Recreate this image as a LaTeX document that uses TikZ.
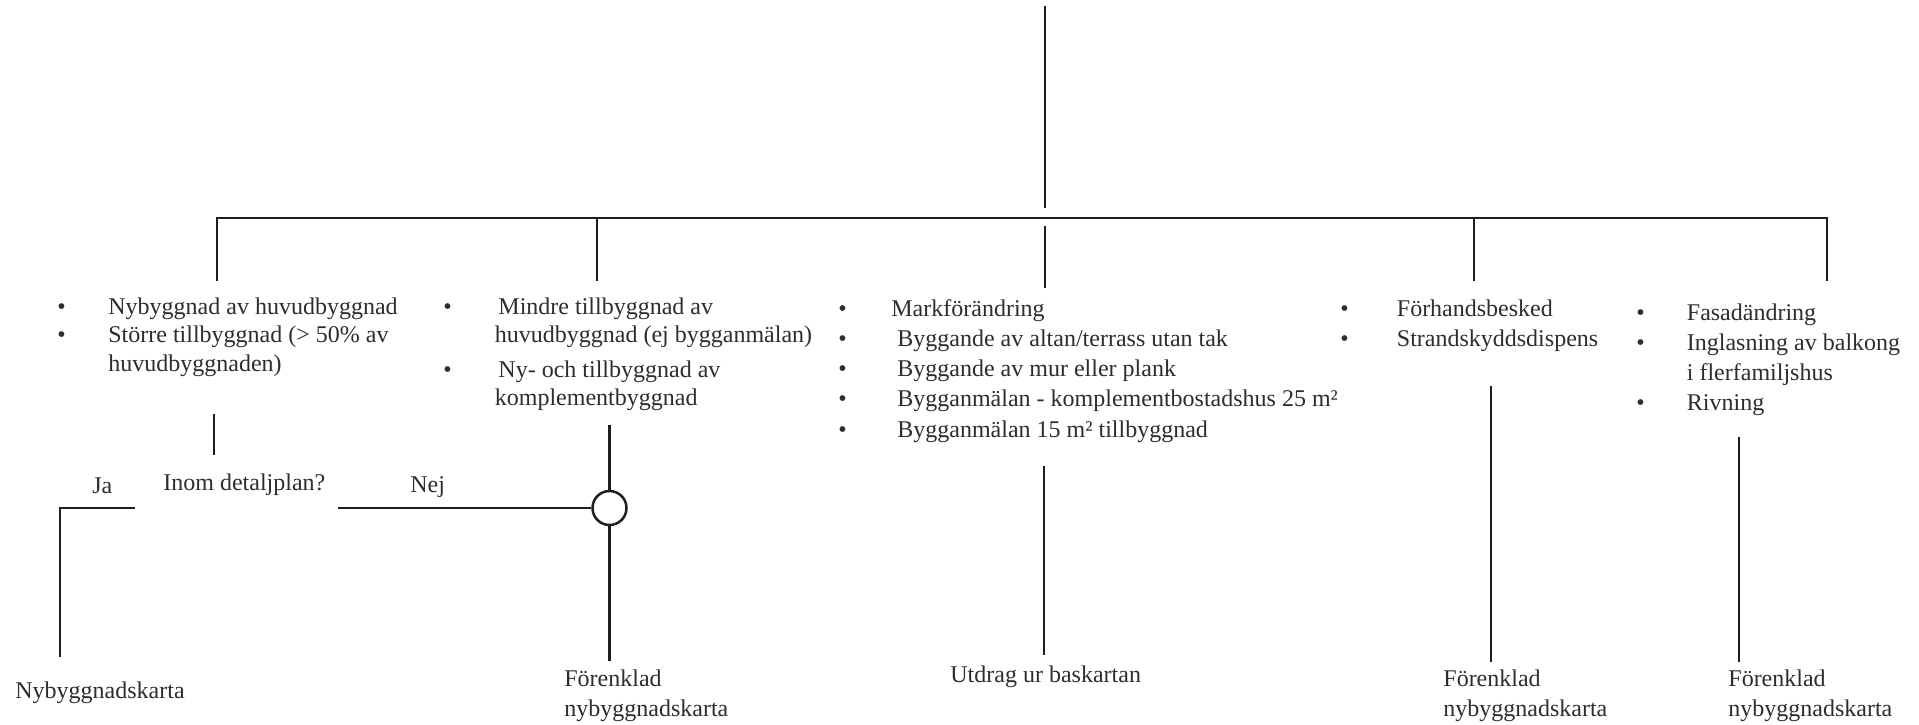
\documentclass[tikz,border=0pt]{standalone}
\usepackage{fontspec}
\setmainfont{Liberation Serif}
\definecolor{ink}{RGB}{30,30,30}
\definecolor{txt}{RGB}{45,45,45}
\newcommand{\bul}[1]{\makebox[#1][l]{\textbullet}}
\begin{document}
\begin{tikzpicture}[x=0.5pt,y=-0.5pt,
  conn/.style={draw=ink, line width=1.25pt},
  lbl/.style={anchor=base west, inner sep=0pt, text=txt, font=\fontsize{12}{14.4}\selectfont},
  lblw/.style={lbl, font=\fontsize{12}{15.15}\selectfont},
  junction/.style={circle, draw=ink, line width=1.25pt, fill=white, minimum size=17pt, inner sep=0pt}]
\useasboundingbox (0,0) rectangle (1919,724);

% text blocks
\node[lbl] (b1) at (57,314) {\begin{tabular}[t]{@{}l@{}l@{}}
\bul{25.5pt} & Nybyggnad av huvudbyggnad\\
\bul{25.5pt} & Större tillbyggnad (> 50\% av\\
 & huvudbyggnaden)
\end{tabular}};
\node[lbl] (b2) at (443,314) {\begin{tabular}[t]{@{}l@{}l@{}}
\bul{25.75pt} & \hspace{1.8pt}Mindre tillbyggnad av\\
 & huvudbyggnad (ej bygganmälan)\\[2.75pt]
\bul{25.75pt} & \hspace{1.8pt}Ny- och tillbyggnad av\\
 & komplementbyggnad
\end{tabular}};
\node[lblw] (b3) at (838,316) {\begin{tabular}[t]{@{}l@{}l@{}}
\bul{26.5pt} & Markförändring\\
\bul{26.5pt} & \hspace{3pt}Byggande av altan/terrass utan tak\\
\bul{26.5pt} & \hspace{3pt}Byggande av mur eller plank\\
\bul{26.5pt} & \hspace{3pt}Bygganmälan - komplementbostadshus 25 m²\\
\bul{26.5pt} & \hspace{3pt}Bygganmälan 15 m² tillbyggnad
\end{tabular}};
\node[lblw] (b4) at (1340,316) {\begin{tabular}[t]{@{}l@{}l@{}}
\bul{28.25pt} & Förhandsbesked\\
\bul{28.25pt} & Strandskyddsdispens
\end{tabular}};
\node[lblw] (b5) at (1636,320) {\begin{tabular}[t]{@{}l@{}l@{}}
\bul{25.25pt} & Fasadändring\\
\bul{25.25pt} & Inglasning av balkong\\
 & i flerfamiljshus\\
\bul{25.25pt} & Rivning
\end{tabular}};

% decision
\node[lbl] (ja) at (92,493) {Ja};
\node[lbl] (q) at (163,490) {Inom detaljplan?};
\node[lbl] (nej) at (410,492) {Nej};
\node[junction] (j) at (609.5,508) {};

% results
\node[lbl] (r1) at (15,698) {Nybyggnadskarta};
\node[lblw] (r2) at (564,686) {\begin{tabular}[t]{@{}l@{}}Förenklad\\ nybyggnadskarta\end{tabular}};
\node[lbl] (r3) at (950,682) {Utdrag ur baskartan};
\node[lblw] (r4) at (1443,686) {\begin{tabular}[t]{@{}l@{}}Förenklad\\ nybyggnadskarta\end{tabular}};
\node[lblw] (r5) at (1728,686) {\begin{tabular}[t]{@{}l@{}}Förenklad\\ nybyggnadskarta\end{tabular}};

% coordinates
\coordinate (t0) at (1045,6);
\coordinate (t1) at (1045,208);
\coordinate (hL) at (217,218);
\coordinate (hR) at (1827,218);
\coordinate (d1) at (217,281);
\coordinate (d2a) at (597,218);
\coordinate (d2) at (597,281);
\coordinate (d3a) at (1045,226);
\coordinate (d3) at (1045,288);
\coordinate (d4a) at (1474,218);
\coordinate (d4) at (1474,281);
\coordinate (d5) at (1827,281);
\coordinate (u1a) at (214,414);
\coordinate (u1b) at (214,455);
\coordinate (qL) at (135,508);
\coordinate (qLc) at (60,508);
\coordinate (qLd) at (60,657);
\coordinate (qR) at (338,508);
\coordinate (u2a) at (609.5,425);
\coordinate (u2b) at (609.5,661);
\coordinate (u3a) at (1044,466);
\coordinate (u3b) at (1044,655);
\coordinate (u4a) at (1491,386);
\coordinate (u4b) at (1491,662);
\coordinate (u5a) at (1739,437);
\coordinate (u5b) at (1739,662);

% connectors
\draw[conn] (t0) -- (t1);
\draw[conn] (d1) -- (hL) -- (hR) -- (d5);
\draw[conn] (d2a) -- (d2);
\draw[conn] (d3a) -- (d3);
\draw[conn] (d4a) -- (d4);
\draw[conn] (u1a) -- (u1b);
\draw[conn] (qL) -- (qLc) -- (qLd);
\draw[conn] (qR) -- (j.west);
\draw[conn] (u2a) -- (j.north);
\draw[conn] (j.south) -- (u2b);
\draw[conn] (u3a) -- (u3b);
\draw[conn] (u4a) -- (u4b);
\draw[conn] (u5a) -- (u5b);
\end{tikzpicture}
\end{document}
